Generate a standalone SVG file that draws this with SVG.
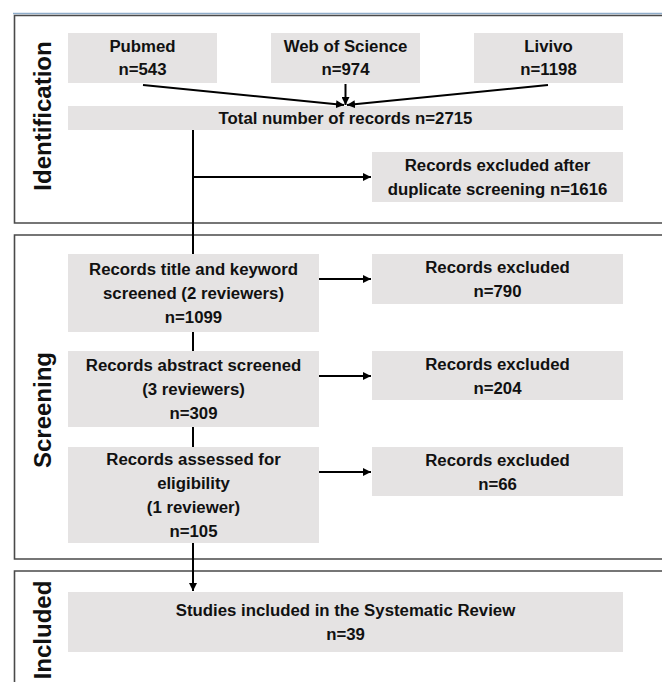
<svg xmlns="http://www.w3.org/2000/svg" width="662" height="682" viewBox="0 0 662 682">
<style>
.panel{fill:none;stroke:#4a4a4a;stroke-width:1.6}
.box{fill:#e5e3e3}
.t{font-family:"Liberation Sans",Arial,sans-serif;font-weight:bold;font-size:16.8px;fill:#111;text-anchor:middle}
.lab{font-family:"Liberation Sans",Arial,sans-serif;font-weight:bold;font-size:24px;fill:#111;text-anchor:middle}
.ln{fill:none;stroke:#000;stroke-width:2}
</style>
<defs>
<marker id="ah" viewBox="0 0 10 10" refX="10" refY="5" markerWidth="4" markerHeight="4" orient="auto" markerUnits="strokeWidth">
<path d="M0,0 L10,5 L0,10 z" fill="#000"/>
</marker>
</defs>
<rect width="662" height="682" fill="#fff"/>
<line x1="13" y1="13.5" x2="662" y2="13.5" stroke="#8fadca" stroke-width="1.6"/>

<g id="panel-identification">
<path class="panel" d="M664,15.5 H14.5 V223 H664"/>
<text class="lab" transform="translate(51,116) rotate(-90)">Identification</text>
</g>
<g id="panel-screening">
<path class="panel" d="M664,235 H14.5 V559 H664"/>
<text class="lab" transform="translate(51,410) rotate(-90)">Screening</text>
</g>
<g id="panel-included">
<path class="panel" d="M664,571 H14.5 V690"/>
<text class="lab" transform="translate(51,630) rotate(-90)">Included</text>
</g>

<g id="pubmed"><rect class="box" x="68" y="33" width="149" height="50"/>
<text class="t" x="142.5" y="52">Pubmed</text><text class="t" x="142.5" y="75">n=543</text></g>
<g id="wos"><rect class="box" x="271" y="33" width="149" height="50"/>
<text class="t" x="345.5" y="52">Web of Science</text><text class="t" x="345.5" y="75">n=974</text></g>
<g id="livivo"><rect class="box" x="474" y="33" width="149" height="50"/>
<text class="t" x="548.5" y="52">Livivo</text><text class="t" x="548.5" y="75">n=1198</text></g>
<g id="total"><rect class="box" x="68" y="106" width="555" height="24"/>
<text class="t" x="345.5" y="124">Total number of records n=2715</text></g>
<g id="dup-excluded"><rect class="box" x="372" y="152" width="251" height="50"/>
<text class="t" x="497.5" y="171">Records excluded after</text><text class="t" x="497.5" y="195">duplicate screening n=1616</text></g>

<g id="title-screen"><rect class="box" x="68" y="254" width="251" height="78"/>
<text class="t" x="193.5" y="275">Records title and keyword</text><text class="t" x="193.5" y="299">screened (2 reviewers)</text><text class="t" x="193.5" y="323">n=1099</text></g>
<g id="excl1"><rect class="box" x="372" y="254" width="251" height="50"/>
<text class="t" x="497.5" y="273">Records excluded</text><text class="t" x="497.5" y="297">n=790</text></g>

<g id="abstract-screen"><rect class="box" x="68" y="351" width="251" height="76"/>
<text class="t" x="193.5" y="371">Records abstract screened</text><text class="t" x="193.5" y="395">(3 reviewers)</text><text class="t" x="193.5" y="419">n=309</text></g>
<g id="excl2"><rect class="box" x="372" y="351" width="251" height="49"/>
<text class="t" x="497.5" y="369.5">Records excluded</text><text class="t" x="497.5" y="393.5">n=204</text></g>

<g id="eligibility"><rect class="box" x="68" y="447" width="251" height="96"/>
<text class="t" x="193.5" y="465">Records assessed for</text><text class="t" x="193.5" y="489">eligibility</text><text class="t" x="193.5" y="513">(1 reviewer)</text><text class="t" x="193.5" y="537">n=105</text></g>
<g id="excl3"><rect class="box" x="372" y="447" width="251" height="49"/>
<text class="t" x="497.5" y="465.5">Records excluded</text><text class="t" x="497.5" y="489.5">n=66</text></g>

<g id="included"><rect class="box" x="68" y="592" width="555" height="60"/>
<text class="t" x="345.5" y="616">Studies included in the Systematic Review</text><text class="t" x="345.5" y="640">n=39</text></g>

<g id="connectors">
<line class="ln" x1="143" y1="85" x2="344" y2="105" marker-end="url(#ah)"/>
<line class="ln" x1="345.5" y1="84" x2="345.5" y2="105" marker-end="url(#ah)"/>
<line class="ln" x1="548" y1="85" x2="347" y2="105" marker-end="url(#ah)"/>
<line class="ln" x1="193" y1="130" x2="193" y2="254"/>
<line class="ln" x1="193" y1="177" x2="371" y2="177" marker-end="url(#ah)"/>
<line class="ln" x1="193" y1="332" x2="193" y2="351"/>
<line class="ln" x1="193" y1="427" x2="193" y2="447"/>
<line class="ln" x1="193" y1="543" x2="193" y2="591" marker-end="url(#ah)"/>
<line class="ln" x1="319" y1="279" x2="371" y2="279" marker-end="url(#ah)"/>
<line class="ln" x1="319" y1="376" x2="371" y2="376" marker-end="url(#ah)"/>
<line class="ln" x1="319" y1="472" x2="371" y2="472" marker-end="url(#ah)"/>
</g>
</svg>
